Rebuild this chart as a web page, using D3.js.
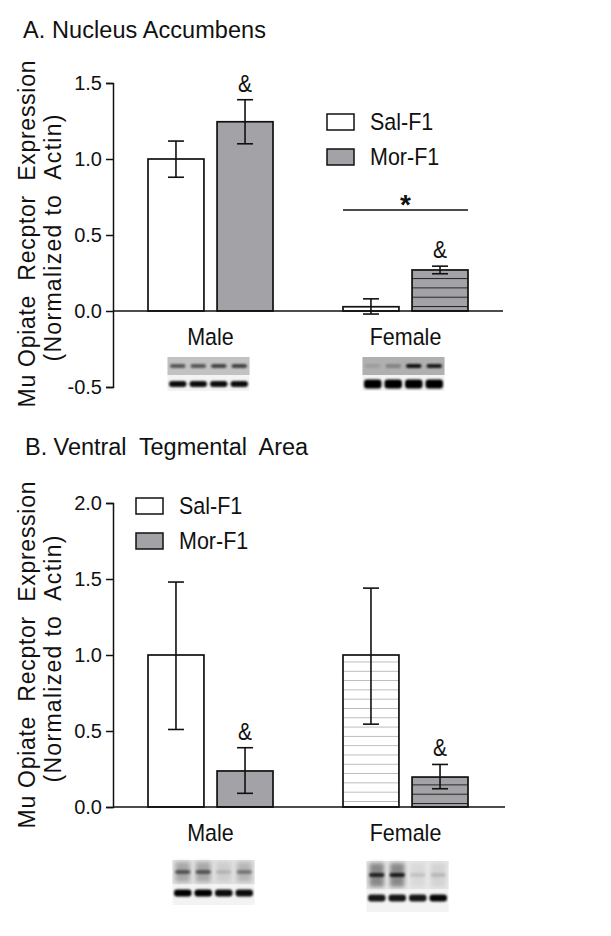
<!DOCTYPE html>
<html><head><meta charset="utf-8">
<script src="https://cdn.jsdelivr.net/npm/d3@7"></script>
<style>body{margin:0;background:#fff}svg{display:block}text{font-family:"Liberation Sans",Arial,sans-serif;fill:#111;white-space:pre}</style>
</head><body>
<svg id="c" width="611" height="936"></svg>
<script>
// ---- data ----
const groups = ["Male", "Female"];
const series = ["Sal-F1", "Mor-F1"];
// Panel A: Nucleus Accumbens
const naMean = [[1.00, 1.245], [0.028, 0.27]];
const naLow  = [[0.88, 1.10], [-0.02, 0.245]];
const naHigh = [[1.118, 1.39], [0.08, 0.295]];
const naTicks = [-0.5, 0.0, 0.5, 1.0, 1.5];
const naAmp = [[false, true], [false, true]];
// Panel B: Ventral Tegmental Area
const vtaMean = [[1.00, 0.237], [1.00, 0.197]];
const vtaLow  = [[0.51, 0.09], [0.545, 0.12]];
const vtaHigh = [[1.48, 0.39], [1.44, 0.28]];
const vtaTicks = [0.0, 0.5, 1.0, 1.5, 2.0];
const vtaAmp = [[false, true], [false, true]];
// blot band intensities (lanes 1-4): top band (MOR), bottom band (actin)
const blotNA = {Male: {top: [0.55, 0.55, 0.65, 0.65], haze: [0, 0, 0, 0], bot: [0.95, 0.95, 0.95, 0.95], bg: "#c2c2c2"},
                Female: {top: [0.1, 0.25, 0.9, 0.85], haze: [0, 0, 0, 0], bot: [1, 1, 1, 1], bg: "#b0b0b0"}};
const blotVTA = {Male: {top: [0.5, 0.5, 0.12, 0.35], haze: [0.25, 0.25, 0.08, 0.18], bot: [1, 1, 0.95, 0.95], bg: "#e0e0e0"},
                 Female: {top: [0.75, 0.8, 0.1, 0.12], haze: [0.4, 0.4, 0.05, 0.08], bot: [0.9, 0.9, 0.9, 0.97], bg: "#e6e6e6"}};

const svg = d3.select("#c");
const defs = svg.append("defs");
defs.append("filter").attr("id", "blur").attr("x", "-20%").attr("y", "-50%").attr("width", "140%").attr("height", "200%")
  .append("feGaussianBlur").attr("stdDeviation", 1.1);
defs.append("filter").attr("id", "blur2").attr("x", "-20%").attr("y", "-50%").attr("width", "140%").attr("height", "200%")
  .append("feGaussianBlur").attr("stdDeviation", 2.2);
function linePattern(id, fill, stroke, sw, baseY) {
  const p = defs.append("pattern").attr("id", id).attr("patternUnits", "userSpaceOnUse")
    .attr("width", 10).attr("height", 9.3).attr("y", baseY);
  p.append("rect").attr("width", 10).attr("height", 9.3).attr("fill", fill);
  p.append("line").attr("x1", 0).attr("x2", 10).attr("y1", 0).attr("y2", 0)
    .attr("stroke", stroke).attr("stroke-width", sw);
}
const GRAY = "#a3a3a7";
linePattern("pA", GRAY, "#222", 2, 306);
linePattern("pB", GRAY, "#222", 2, 803);
linePattern("pBs", "#fff", "#9a9a9a", 1.3, 801);

function stretchedText(g, x, y, txt, size, anchor, sy) {
  return g.append("text").attr("transform", `translate(${x},${y}) scale(1,${sy || 1.1})`)
    .attr("text-anchor", anchor || "start").attr("font-size", size).text(txt);
}

function panel(cfg) {
  const g = svg.append("g");
  const y = d3.scaleLinear().domain(cfg.domain).range(cfg.yRange);
  const x0 = d3.scaleBand().domain(groups).range([113, 503]).padding(0);
  const x1 = d3.scaleBand().domain(series).range([-62.5, 62.5]).paddingInner(0.19);
  // title
  g.append("text").attr("x", cfg.titleX).attr("y", cfg.titleY).attr("font-size", 23.5)
    .attr("textLength", cfg.titleLen).attr("lengthAdjust", "spacing").text(cfg.title);
  // y axis
  const ax = g.append("g").attr("transform", "translate(113,0)")
    .call(d3.axisLeft(y).tickValues(cfg.ticks).tickSize(7).tickPadding(4));
  ax.select(".domain").attr("stroke", "#111").attr("stroke-width", 1.5);
  ax.selectAll(".tick line").attr("stroke", "#111").attr("stroke-width", 1.5);
  ax.selectAll(".tick text").attr("font-size", 20).attr("font-family", "Liberation Sans, Arial, sans-serif").attr("fill", "#111")
    .text(d => d < 0 ? "-" + d3.format(".1f")(-d) : d3.format(".1f")(d));
  // y label
  const ly = cfg.labelY;
  g.append("text").attr("transform", `translate(35,${ly}) rotate(-90)`).attr("text-anchor", "middle")
    .attr("font-size", 23).attr("textLength", 347).attr("lengthAdjust", "spacing").text("Mu Opiate  Recptor  Expression");
  g.append("text").attr("transform", `translate(61,${ly + 4}) rotate(-90)`).attr("text-anchor", "middle")
    .attr("font-size", 23).attr("textLength", 247).attr("lengthAdjust", "spacing").text("(Normalized to  Actin)");
  // blots behind
  groups.forEach((gr, gi) => {
    const cx = x0(gr) + x0.bandwidth() / 2;
    const b = cfg.blot[gr], bb = cfg.blotBox[gi];
    const bx = cx + bb[0], bw = 82;
    g.append("rect").attr("x", bx).attr("y", bb[1]).attr("width", bw).attr("height", bb[2]).attr("fill", "#f3f3f3");
    g.append("rect").attr("x", bx).attr("y", bb[1]).attr("width", bw).attr("height", bb[3]).attr("fill", b.bg);
    const lw = bw / 4;
    b.haze.forEach((t, li) => {
      if (t > 0) g.append("rect").attr("x", bx + li * lw + 3).attr("y", bb[1] + 2).attr("width", lw - 6).attr("height", bb[3] - 4)
        .attr("fill", "#000").attr("opacity", t).attr("filter", "url(#blur2)");
    });
    b.top.forEach((t, li) => {
      g.append("rect").attr("x", bx + li * lw + 2.5).attr("y", bb[1] + bb[3] * 0.5 - 2).attr("width", lw - 5).attr("height", 4)
        .attr("rx", 2).attr("fill", "#000").attr("opacity", t).attr("filter", "url(#blur)");
    });
    b.bot.forEach((t, li) => {
      g.append("rect").attr("x", bx + li * lw + 1.5).attr("y", bb[1] + bb[4] - bb[5] / 2).attr("width", lw - 3).attr("height", bb[5])
        .attr("rx", 3).attr("fill", "#000").attr("opacity", t).attr("filter", "url(#blur)");
    });
  });
  // bars
  groups.forEach((gr, gi) => {
    const cx = x0(gr) + x0.bandwidth() / 2;
    series.forEach((s, si) => {
      const xl = cx + x1(s), w = x1.bandwidth();
      const v = cfg.mean[gi][si];
      let fill = si === 0 ? "#fff" : GRAY;
      if (gi === 1 && si === 1) fill = `url(#${cfg.patMor})`;
      if (gi === 1 && si === 0 && cfg.patSal) fill = `url(#${cfg.patSal})`;
      g.append("rect").attr("x", xl).attr("width", w)
        .attr("y", Math.min(y(v), y(0))).attr("height", Math.abs(y(0) - y(v)))
        .attr("fill", fill).attr("stroke", "#111").attr("stroke-width", 1.7);
      const ex = xl + w / 2;
      const lo = cfg.low[gi][si], hi = cfg.high[gi][si];
      g.append("line").attr("x1", ex).attr("x2", ex).attr("y1", y(lo)).attr("y2", y(hi)).attr("stroke", "#111").attr("stroke-width", 1.6);
      [lo, hi].forEach(val => g.append("line").attr("x1", ex - 8).attr("x2", ex + 8).attr("y1", y(val)).attr("y2", y(val))
        .attr("stroke", "#111").attr("stroke-width", 1.6));
      if (cfg.amp[gi][si]) {
        stretchedText(g, ex, y(hi) - 8, "&", 21, "middle", 1.1);
      }
    });
    stretchedText(g, cx, cfg.catY, gr, 21.5, "middle", 1.12);
  });
  // baseline
  g.append("line").attr("x1", 113).attr("x2", cfg.baseEnd).attr("y1", y(0)).attr("y2", y(0)).attr("stroke", "#111").attr("stroke-width", 1.5);
  // legend
  series.forEach((s, si) => {
    const ly2 = cfg.legY + si * 35;
    g.append("rect").attr("x", cfg.legX).attr("y", ly2).attr("width", 27).attr("height", 16)
      .attr("fill", si === 0 ? "#fff" : GRAY).attr("stroke", "#111").attr("stroke-width", 1.5);
    stretchedText(g, cfg.legX + 43, ly2 + 16, s, 21.5, "start", 1.12);
  });
  return {g, y, x0, x1};
}

const A = panel({title: "A. Nucleus Accumbens", titleLen: 243, titleX: 23, titleY: 38, domain: [-0.5, 1.5], yRange: [387, 83],
  ticks: naTicks, mean: naMean, low: naLow, high: naHigh, amp: naAmp, labelY: 234, catY: 345,
  patMor: "pA", patSal: null, blot: blotNA, blotBox: [[-43, 357, 34, 18, 27, 6], [-43, 357, 34, 18, 27, 9]],
  baseEnd: 503, legX: 327, legY: 114});
// significance bar (Female pair)
{
  const cx = A.x0("Female") + A.x0.bandwidth() / 2;
  const xa = cx + A.x1("Sal-F1"), xb = cx + A.x1("Mor-F1") + A.x1.bandwidth();
  A.g.append("line").attr("x1", xa).attr("x2", xb).attr("y1", 210).attr("y2", 210).attr("stroke", "#111").attr("stroke-width", 1.5);
  A.g.append("text").attr("x", (xa + xb) / 2).attr("y", 214).attr("text-anchor", "middle").attr("font-size", 28).attr("font-weight", "bold").text("*");
}
panel({title: "B. Ventral  Tegmental  Area", titleLen: 283, titleX: 25, titleY: 455, domain: [0, 2], yRange: [807, 503],
  ticks: vtaTicks, mean: vtaMean, low: vtaLow, high: vtaHigh, amp: vtaAmp, labelY: 655, catY: 841,
  patMor: "pB", patSal: "pBs", blot: blotVTA, blotBox: [[-38, 860, 45, 24, 33, 7], [-39, 861, 51, 28, 37, 7]],
  baseEnd: 505, legX: 136, legY: 498});
</script>
</body></html>
